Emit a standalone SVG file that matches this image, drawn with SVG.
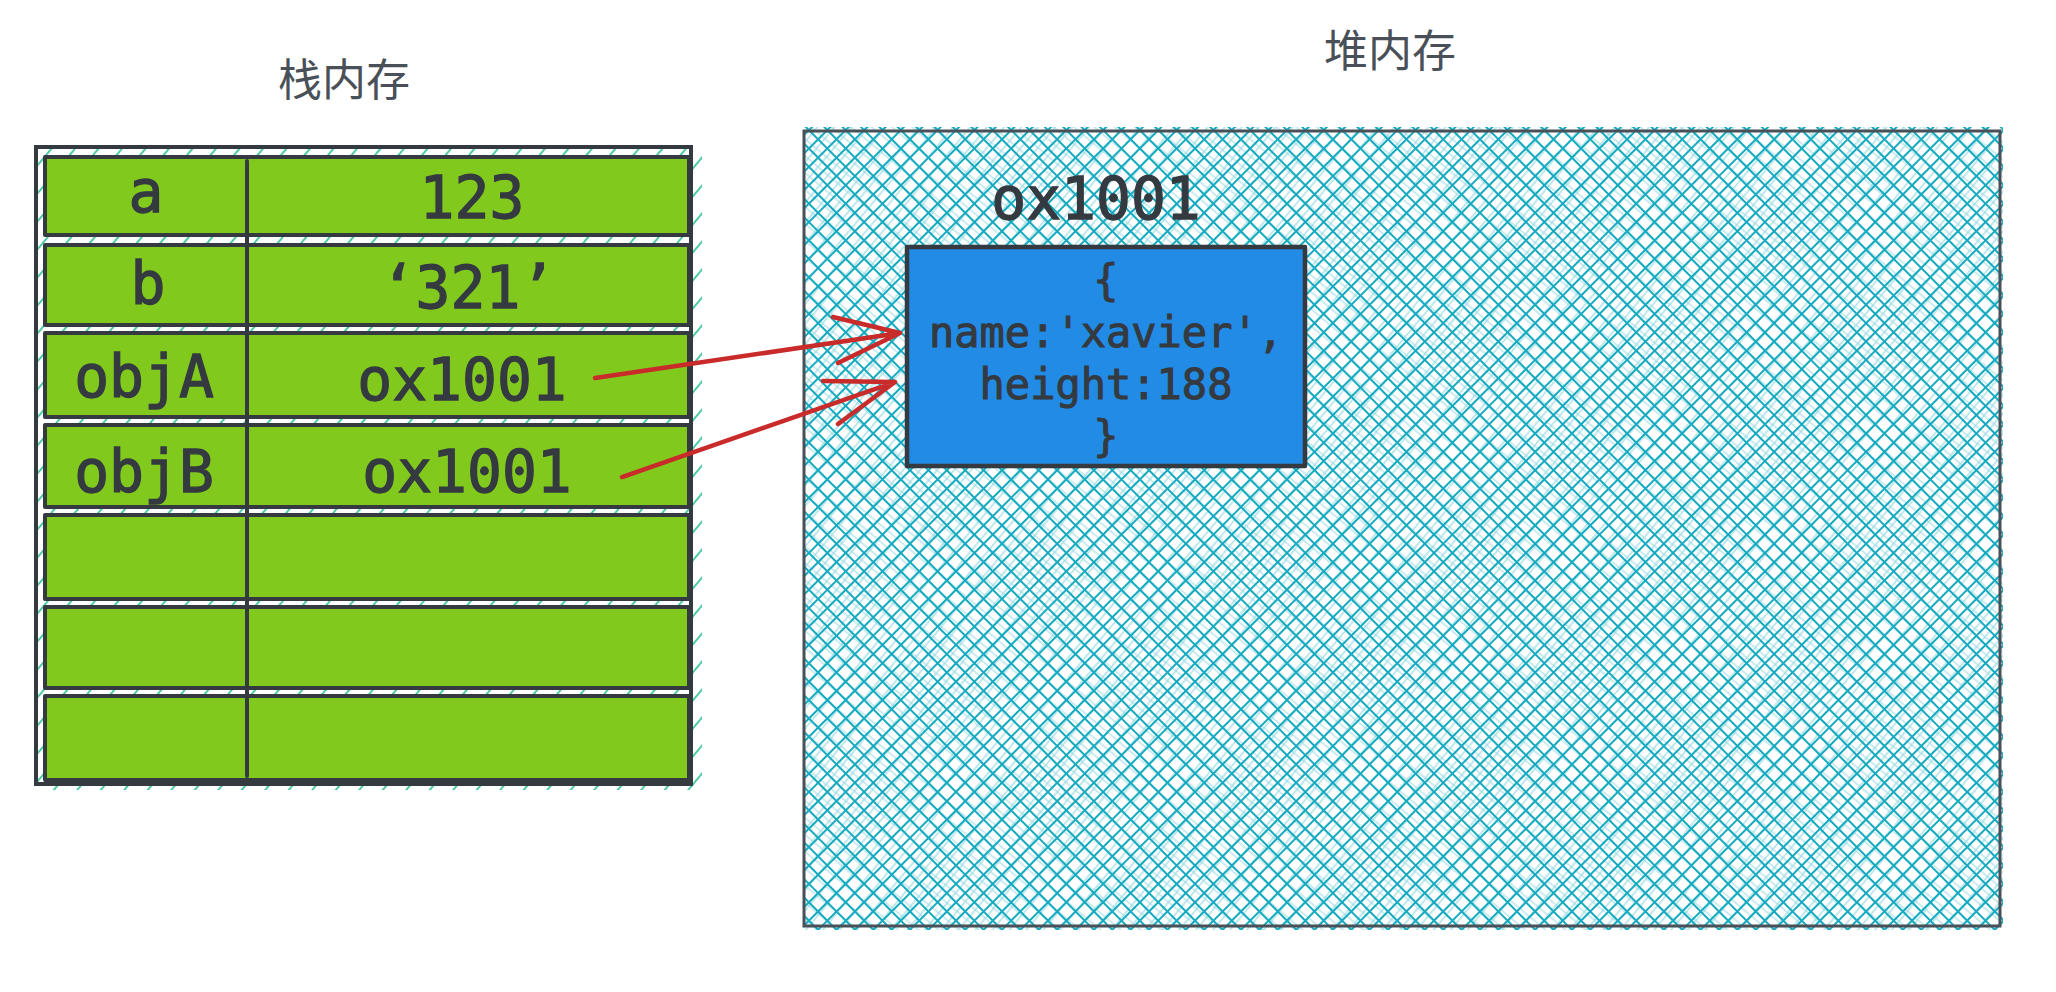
<svg xmlns="http://www.w3.org/2000/svg" width="2056" height="992" viewBox="0 0 2056 992">
  <defs>
    <pattern id="hatchG" patternUnits="userSpaceOnUse" width="40" height="18" patternTransform="rotate(-50)">
      <path d="M0,9 H40" stroke="#12b886" stroke-width="1.6"/>
    </pattern>
    <pattern id="xh" patternUnits="userSpaceOnUse" width="13" height="13" patternTransform="rotate(45)">
      <path d="M0,1 H13 M1,0 V13" stroke="#15aabf" stroke-width="2" fill="none"/>
    </pattern>
    <pattern id="xh2" patternUnits="userSpaceOnUse" width="13" height="13" patternTransform="rotate(40) translate(5,4)">
      <path d="M0,1 H13 M1,0 V13" stroke="#15aabf" stroke-width="1.2" fill="none" opacity="0.45"/>
    </pattern>
  </defs>
  <style>
    .row { fill: #82c91e; stroke: #343a40; stroke-width: 4; stroke-linejoin: round; }
    .mono { font-family: "DejaVu Sans Mono", "Liberation Mono", monospace; fill: #343a40; stroke: #343a40; stroke-width: 1.3; text-anchor: middle; }
    .big { font-size: 58px; }
    .obj { font-size: 42px; stroke-width: 1; }
    .title { font-family: "Noto Sans CJK SC", "Noto Sans", sans-serif; font-size: 44px; fill: #495057; text-anchor: middle; }
    .arrow { fill: none; stroke: #c92a2a; stroke-width: 4.5; stroke-linecap: round; stroke-linejoin: round; }
  </style>
  <rect width="2056" height="992" fill="#ffffff"/>

  <g id="stack-title"><text class="title" x="344" y="96">栈内存</text></g>
  <g id="heap-title"><text class="title" x="1390" y="67">堆内存</text></g>

  <g id="heap">
    <rect x="803" y="127" width="1200" height="803" fill="url(#xh)"/>
    <rect x="803" y="127" width="1200" height="803" fill="url(#xh2)"/>
    <rect x="804" y="131" width="1196" height="795" fill="none" stroke="#495057" stroke-width="3"/>
    <text class="mono big" x="1096" y="219" stroke-width="2">ox1001</text>
  </g>

  <g id="stack-table">
    <rect x="36" y="147" width="666" height="643" fill="url(#hatchG)"/>
    <rect x="36" y="147" width="655" height="637" fill="none" stroke="#343a40" stroke-width="4"/>
  </g>

  <g id="row-a">
    <rect class="row" x="45" y="157" width="644" height="78"/>
    <text class="mono big" x="146" y="212">a</text>
    <text class="mono big" x="472" y="218">123</text>
  </g>
  <g id="row-b">
    <rect class="row" x="45" y="245" width="644" height="80"/>
    <text class="mono big" x="148" y="304">b</text>
    <text class="mono big" x="468" y="308">‘321’</text>
  </g>
  <g id="row-objA">
    <rect class="row" x="45" y="333" width="644" height="84"/>
    <text class="mono big" x="144" y="397">objA</text>
    <text class="mono big" x="462" y="400">ox1001</text>
  </g>
  <g id="row-objB">
    <rect class="row" x="45" y="425" width="644" height="82"/>
    <text class="mono big" x="144" y="492">objB</text>
    <text class="mono big" x="467" y="492">ox1001</text>
  </g>
  <g id="row-5"><rect class="row" x="45" y="515" width="644" height="84"/></g>
  <g id="row-6"><rect class="row" x="45" y="607" width="644" height="81"/></g>
  <g id="row-7"><rect class="row" x="45" y="696" width="644" height="84"/></g>
  <g id="divider"><path d="M247,161 V776" stroke="#343a40" stroke-width="4" stroke-linecap="round"/></g>

  <g id="object">
    <rect x="907" y="247" width="398" height="219" fill="#228be6" stroke="#343a40" stroke-width="4.5" stroke-linejoin="round"/>
    <text class="mono obj" x="1106" y="295">{</text>
    <text class="mono obj" x="1106" y="347">name:'xavier',</text>
    <text class="mono obj" x="1106" y="399">height:188</text>
    <text class="mono obj" x="1106" y="451">}</text>
  </g>

  <g id="connectors">
    <path class="arrow" d="M595,378 L900,333 M833,317 L900,333 L838,363"/>
    <path class="arrow" d="M622,477 L895,382 M823,381 L895,382 L838,424"/>
  </g>
</svg>
